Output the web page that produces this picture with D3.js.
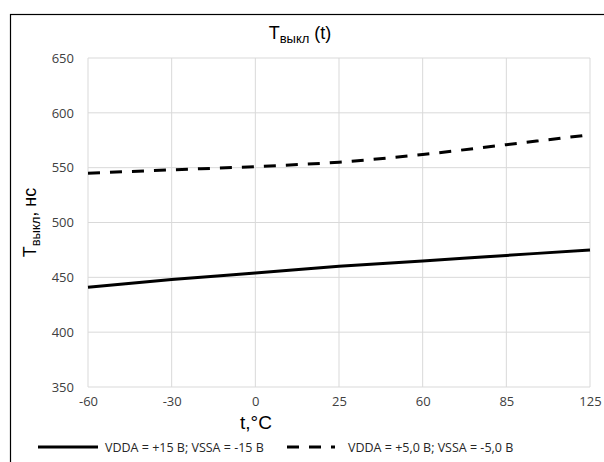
<!DOCTYPE html>
<html>
<head>
<meta charset="utf-8">
<script src="https://cdn.jsdelivr.net/npm/d3@7"></script>
<style>
  body { margin: 0; background: #fff; }
  svg text { font-family: "Open Sans", "Liberation Sans", sans-serif; fill: #000; }
  .tick text { font-size: 13px; fill: #404040; }
  .grid line { stroke: #d9d9d9; stroke-width: 1; }
</style>
</head>
<body>
<div id="chart"></div>
<script>
// categories on the x axis (Excel category axis, equal spacing)
let temps = ["-60", "-30", "0", "25", "60", "85", "125"];
// turn-off time, ns
let vdda15 = [441, 448, 454, 460, 465, 470, 475];
let vdda5 = [545, 548, 551, 555, 562, 571, 580];
let yTicks = [350, 400, 450, 500, 550, 600, 650];
let seriesNames = ["VDDA = +15 В; VSSA = -15 В", "VDDA = +5,0 В; VSSA = -5,0 В"];

const W = 604, H = 462;
const margin = { top: 58, right: 14, bottom: 75, left: 88 };
const width = W - margin.left - margin.right;
const height = H - margin.top - margin.bottom;

const svg = d3.select("#chart").append("svg")
    .attr("width", W)
    .attr("height", H);

// chart frame (runs off the right and bottom edge)
svg.append("rect")
    .attr("x", 10.5).attr("y", 14.5)
    .attr("width", W + 20).attr("height", H + 20)
    .attr("fill", "none")
    .attr("stroke", "#000")
    .attr("stroke-width", 1.2);

const plot = svg.append("g")
    .attr("transform", `translate(${margin.left},${margin.top})`);

const x = d3.scalePoint().domain(temps).range([0, width]);
const y = d3.scaleLinear().domain([350, 650]).range([height, 0]);

// gridlines
plot.append("g").attr("class", "grid")
    .selectAll("line.h").data(yTicks).enter().append("line")
    .attr("x1", 0).attr("x2", width)
    .attr("y1", d => y(d)).attr("y2", d => y(d));

plot.append("g").attr("class", "grid")
    .selectAll("line.v").data(temps).enter().append("line")
    .attr("y1", 0).attr("y2", height)
    .attr("x1", d => x(d)).attr("x2", d => x(d));

// axes (text only)
const yAxis = plot.append("g")
    .call(d3.axisLeft(y).tickValues(yTicks).tickSize(0).tickPadding(14));
yAxis.select(".domain").remove();

const xAxis = plot.append("g")
    .attr("transform", `translate(0,${height})`)
    .call(d3.axisBottom(x).tickSize(0).tickPadding(10));
xAxis.select(".domain").remove();

// lines
const line = d3.line()
    .curve(d3.curveMonotoneX)
    .x((d, i) => x(temps[i]))
    .y(d => y(d));

plot.append("path")
    .attr("d", line(vdda15))
    .attr("fill", "none")
    .attr("stroke", "#000")
    .attr("stroke-width", 3);

plot.append("path")
    .attr("d", line(vdda5))
    .attr("fill", "none")
    .attr("stroke", "#000")
    .attr("stroke-width", 3)
    .attr("stroke-dasharray", "12,10");

// title
const title = svg.append("text")
    .attr("x", 300).attr("y", 39)
    .attr("text-anchor", "middle")
    .style("font-family", "'Liberation Sans', Arial, sans-serif")
    .style("font-size", "18px");
title.append("tspan").text("T");
title.append("tspan").attr("dy", 4).style("font-size", "13px").text("выкл");
title.append("tspan").attr("dy", -4).text(" (t)");

// y axis title
const yTitle = svg.append("text")
    .attr("transform", `translate(36,${margin.top + height / 2}) rotate(-90)`)
    .attr("text-anchor", "middle")
    .style("font-family", "'Liberation Sans', Arial, sans-serif")
    .style("font-size", "18px");
yTitle.append("tspan").text("T");
yTitle.append("tspan").attr("dy", 4).style("font-size", "13px").text("выкл");
yTitle.append("tspan").attr("dy", -4).text(", нс");

// x axis title
svg.append("text")
    .attr("x", 256).attr("y", 429)
    .attr("text-anchor", "middle")
    .style("font-family", "'Liberation Sans', Arial, sans-serif")
    .style("font-size", "19px")
    .text("t,°C");

// legend
const legend = [
    { name: seriesNames[0], dash: null, x1: 38, x2: 98, tx: 105 },
    { name: seriesNames[1], dash: "12,10", x1: 287, x2: 335, tx: 348 }
];
const lg = svg.append("g");
legend.forEach(l => {
    lg.append("line")
        .attr("x1", l.x1).attr("x2", l.x2)
        .attr("y1", 447).attr("y2", 447)
        .attr("stroke", "#000")
        .attr("stroke-width", 3)
        .attr("stroke-dasharray", l.dash);
    lg.append("text")
        .attr("x", l.tx).attr("y", 451.5)
        .style("font-size", "12.5px")
        .style("fill", "#262626")
        .text(l.name);
});
</script>
</body>
</html>
